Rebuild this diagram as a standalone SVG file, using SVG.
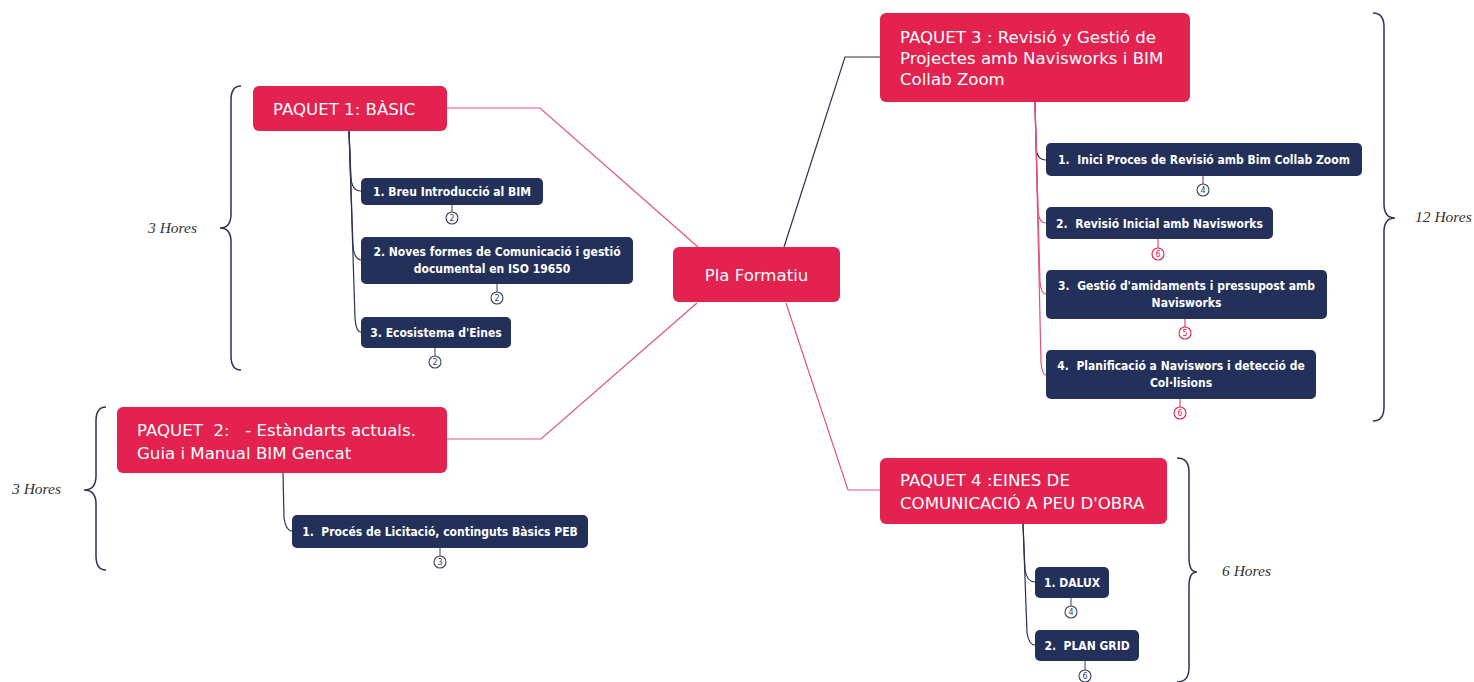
<svg xmlns="http://www.w3.org/2000/svg" width="1474" height="682" viewBox="0 0 1474 682">
<style>
.main rect{fill:#E3224F}
.main text{fill:#fff;font-family:"DejaVu Sans",sans-serif;font-size:16.6px}
.sub rect{fill:#22305A}
.sub text{fill:#fff;font-family:"DejaVu Sans Condensed","DejaVu Sans",sans-serif;font-size:12px;font-weight:bold;text-anchor:middle}
.badge circle{fill:#fff;stroke-width:1.1}
.badge text{font-family:"DejaVu Sans",sans-serif;font-size:8px;text-anchor:middle}
.bn circle{stroke:#3a4260}.bn text{fill:#3a4260}.bn line{stroke:#3a4260}
.bp circle{stroke:#E3224F}.bp text{fill:#E3224F}.bp line{stroke:#E3224F}
.pk{fill:none;stroke:#E05577;stroke-width:1.2}
.nv{fill:none;stroke:#2c3352;stroke-width:1.2}
.brace{fill:none;stroke:#2c3352;stroke-width:1.5}
.hrs{font-family:"Liberation Serif",serif;font-style:italic;font-size:15.5px;fill:#333}
</style>

<g id="connectors">
<path class="pk" d="M447,108 L540,108 L698,247"/>
<path class="pk" d="M697,303 L541,439 L447,439"/>
<path class="nv" d="M784,247 L845,57 L880,57"/>
<path class="pk" d="M786,303 L848,490 L880,490"/>
<path class="nv" d="M349,131 L351,178 Q352,191 361,191"/>
<path class="nv" d="M349,131 L353,246 Q354,259 361,260"/>
<path class="nv" d="M349,131 L355,318 Q356,332 361,332"/>
<path class="nv" d="M283,473 L284,518 Q286,531 292,531"/>
<path class="nv" d="M1035,102 L1036,148 Q1037,160 1046,160"/>
<path class="pk" d="M1035,102 L1038,211 Q1039,223 1046,223"/>
<path class="pk" d="M1035,102 L1040,282 Q1041,294 1046,294"/>
<path class="pk" d="M1035,102 L1041,362 Q1042,375 1046,375"/>
<path class="nv" d="M1023,524 L1025,570 Q1027,582 1035,582"/>
<path class="nv" d="M1023,524 L1027,633 Q1029,645 1035,645"/>
</g>

<g id="pla-formatiu" class="main">
<rect x="673" y="247" width="167" height="55" rx="6"/>
<text x="756.5" y="281" text-anchor="middle">Pla Formatiu</text>
</g>

<g id="paquet1" class="main">
<rect x="253" y="86" width="194" height="45" rx="6"/>
<text x="273" y="115">PAQUET 1: BÀSIC</text>
</g>
<g id="p1-s1" class="sub">
<rect x="361" y="178" width="182" height="27" rx="5"/>
<text x="452" y="196">1.  Breu Introducció al BIM</text>
</g>
<g id="p1-s2" class="sub">
<rect x="361" y="237" width="272" height="47" rx="5"/>
<text x="497" y="256">2. Noves formes de Comunicació i gestió</text>
<text x="492" y="273">documental en ISO 19650</text>
</g>
<g id="p1-s3" class="sub">
<rect x="361" y="317" width="150" height="31" rx="5"/>
<text x="436" y="337">3. Ecosistema d'Eines</text>
</g>

<g id="paquet2" class="main">
<rect x="117" y="407" width="330" height="66" rx="6"/>
<text x="137" y="436" xml:space="preserve">PAQUET  2:   - Estàndarts actuals.</text>
<text x="137" y="459">Guia i Manual BIM Gencat</text>
</g>
<g id="p2-s1" class="sub">
<rect x="292" y="515" width="296" height="33" rx="5"/>
<text x="440" y="536" xml:space="preserve">1.  Procés de Licitació, continguts Bàsics PEB</text>
</g>

<g id="paquet3" class="main">
<rect x="880" y="13" width="310" height="89" rx="6"/>
<text x="900" y="43">PAQUET 3 : Revisió y Gestió de</text>
<text x="900" y="64">Projectes amb Navisworks i BIM</text>
<text x="900" y="85">Collab Zoom</text>
</g>
<g id="p3-s1" class="sub">
<rect x="1046" y="143" width="316" height="33" rx="5"/>
<text x="1204" y="164" xml:space="preserve">1.  Inici Proces de Revisió amb Bim Collab Zoom</text>
</g>
<g id="p3-s2" class="sub">
<rect x="1046" y="207" width="227" height="32" rx="5"/>
<text x="1159.5" y="228" xml:space="preserve">2.  Revisió Inicial amb Navisworks</text>
</g>
<g id="p3-s3" class="sub">
<rect x="1046" y="270" width="281" height="49" rx="5"/>
<text x="1186.5" y="290" xml:space="preserve">3.  Gestió d'amidaments i pressupost amb</text>
<text x="1186.5" y="307">Navisworks</text>
</g>
<g id="p3-s4" class="sub">
<rect x="1046" y="350" width="270" height="49" rx="5"/>
<text x="1181" y="370" xml:space="preserve">4.  Planificació a Naviswors i detecció de</text>
<text x="1181" y="387">Col·lisions</text>
</g>

<g id="paquet4" class="main">
<rect x="880" y="458" width="287" height="66" rx="6"/>
<text x="900" y="486">PAQUET 4 :EINES DE</text>
<text x="900" y="509">COMUNICACIÓ A PEU D'OBRA</text>
</g>
<g id="p4-s1" class="sub">
<rect x="1035" y="567" width="74" height="31" rx="5"/>
<text x="1072" y="587">1. DALUX</text>
</g>
<g id="p4-s2" class="sub">
<rect x="1035" y="630" width="104" height="31" rx="5"/>
<text x="1087" y="650" xml:space="preserve">2.  PLAN GRID</text>
</g>

<g id="badges">
<g class="badge bn"><line x1="452" y1="205" x2="452" y2="212"/><circle cx="452" cy="218" r="6"/><text x="452" y="221">2</text></g>
<g class="badge bn"><line x1="497" y1="284" x2="497" y2="292"/><circle cx="497" cy="298" r="6"/><text x="497" y="301">2</text></g>
<g class="badge bn"><line x1="435" y1="348" x2="435" y2="356"/><circle cx="435" cy="362" r="6"/><text x="435" y="365">2</text></g>
<g class="badge bn"><line x1="440" y1="548" x2="440" y2="556"/><circle cx="440" cy="562" r="6"/><text x="440" y="565">3</text></g>
<g class="badge bn"><line x1="1203" y1="176" x2="1203" y2="184"/><circle cx="1203" cy="190" r="6"/><text x="1203" y="193">4</text></g>
<g class="badge bp"><line x1="1158" y1="239" x2="1158" y2="248"/><circle cx="1158" cy="254" r="6"/><text x="1158" y="257">6</text></g>
<g class="badge bp"><line x1="1185" y1="319" x2="1185" y2="327"/><circle cx="1185" cy="333" r="6"/><text x="1185" y="336">5</text></g>
<g class="badge bp"><line x1="1180" y1="399" x2="1180" y2="407"/><circle cx="1180" cy="413" r="6"/><text x="1180" y="416">6</text></g>
<g class="badge bn"><line x1="1071" y1="598" x2="1071" y2="606"/><circle cx="1071" cy="612" r="6"/><text x="1071" y="615">4</text></g>
<g class="badge bn"><line x1="1085" y1="661" x2="1085" y2="670"/><circle cx="1085" cy="676" r="6"/><text x="1085" y="679">6</text></g>
</g>

<g id="brace-p1">
<path class="brace" d="M241,86 Q231,86 231,100 L231,214 Q231,228 220,228 Q231,228 231,242 L231,356 Q231,370 241,370"/>
<text class="hrs" x="148" y="233">3 Hores</text>
</g>
<g id="brace-p2">
<path class="brace" d="M106,407 Q96,407 96,421 L96,476 Q96,490 84,490 Q96,490 96,504 L96,556 Q96,570 106,570"/>
<text class="hrs" x="12" y="494">3 Hores</text>
</g>
<g id="brace-p3">
<path class="brace" d="M1373,13 Q1384,13 1384,27 L1384,204 Q1384,218 1395,218 Q1384,218 1384,232 L1384,407 Q1384,421 1373,421"/>
<text class="hrs" x="1415" y="222">12 Hores</text>
</g>
<g id="brace-p4">
<path class="brace" d="M1177,458 Q1189,458 1189,472 L1189,558 Q1189,572 1197,572 Q1189,572 1189,586 L1189,668 Q1189,682 1177,682"/>
<text class="hrs" x="1222" y="576">6 Hores</text>
</g>
</svg>
